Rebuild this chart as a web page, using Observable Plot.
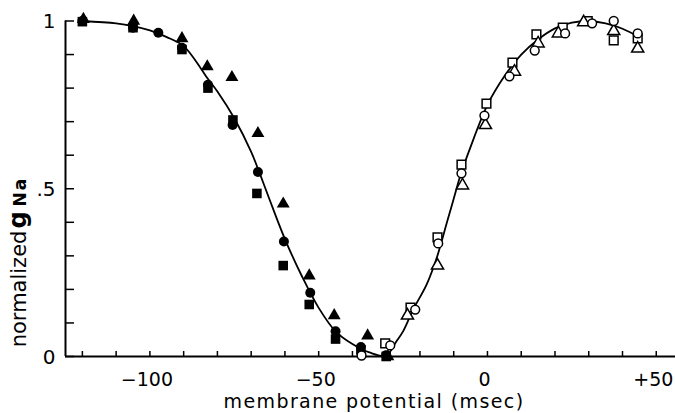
<!DOCTYPE html>
<html>
<head>
<meta charset="utf-8">
<script src="https://cdn.jsdelivr.net/npm/d3@7"></script>
<script src="https://cdn.jsdelivr.net/npm/@observablehq/plot@0.6"></script>
<style>
  html, body { margin: 0; padding: 0; background: #fff; }
  svg { display: block; }
</style>
</head>
<body>
<div id="chart"></div>
<script>
// ---- Data (membrane potential in mV, normalized gNa) ----
// Filled symbols: inactivation
const filledCircleV = [-120, -105, -97.5, -90.5, -82.8, -75.5, -68, -60.3, -52.5, -45, -37.5, -30];
const filledCircleG = [1.0, 0.98, 0.965, 0.92, 0.81, 0.69, 0.55, 0.343, 0.19, 0.075, 0.028, 0.004];
const filledSquareV = [-120, -105, -90.5, -82.8, -75.4, -68.3, -60.5, -52.8, -45, -37.5, -30];
const filledSquareG = [0.998, 0.98, 0.915, 0.80, 0.705, 0.486, 0.271, 0.155, 0.052, 0.02, 0.0];
const filledTriangleV = [-119.7, -104.8, -90.5, -83, -75.7, -68, -60.5, -52.8, -45.4, -35.5, -29.5];
const filledTriangleG = [1.005, 1.0, 0.948, 0.864, 0.832, 0.665, 0.455, 0.241, 0.122, 0.062, 0.0];
// Open symbols: activation
const openCircleV = [-37.3, -28.8, -21.4, -14.6, -7.7, -0.9, 6.5, 14, 23, 31, 37.4, 44.5];
const openCircleG = [0.003, 0.033, 0.14, 0.337, 0.546, 0.718, 0.835, 0.912, 0.963, 0.993, 1.0, 0.963];
const openSquareV = [-30.3, -22.8, -14.8, -7.7, -0.3, 7.4, 14.5, 22.3, 29.7, 37.4, 44.5];
const openSquareG = [0.039, 0.146, 0.355, 0.572, 0.754, 0.876, 0.96, 0.98, 1.0, 0.942, 0.948];
const openTriangleV = [-23.7, -14.8, -7.4, -0.6, 8, 15, 21, 28.5, 37.4, 44.5];
const openTriangleG = [0.122, 0.271, 0.51, 0.69, 0.849, 0.933, 0.963, 0.996, 0.97, 0.918];
// Fitted curve
const curveV = [-120, -110, -105, -100, -95, -90, -85, -83, -80, -75, -70, -68, -65, -60, -55, -50, -45, -40, -35, -30,
                -27, -25, -22, -18, -15, -12, -10, -8, -5, 0, 5, 10, 15, 20, 25, 30, 35, 40, 45];
const curveG = [1.0, 0.993, 0.985, 0.972, 0.952, 0.925, 0.86, 0.83, 0.79, 0.71, 0.61, 0.56, 0.48, 0.35, 0.24, 0.145, 0.075, 0.037, 0.012, 0.003,
                0.045, 0.075, 0.14, 0.215, 0.295, 0.40, 0.47, 0.54, 0.625, 0.75, 0.835, 0.90, 0.945, 0.978, 0.995, 1.0, 0.993, 0.977, 0.952];
// Ticks and labels
const xMinorTicks = [-120, -110, -100, -90, -80, -70, -60, -50, -40, -30, -20, -10, 0, 10, 20, 30, 40, 50];
const xLabelTicks = [-100, -50, 0, 50];
const xTickLabels = ["\u2212100", "\u221250", "0", "+50"];
const yMinorTicks = [0, 0.1, 0.2, 0.3, 0.4, 0.5, 0.6, 0.7, 0.8, 0.9, 1.0];
const yLabelTicks = [0, 0.5, 1];
const yTickLabels = ["0", ".5", "1"];
const xTitle = "membrane potential (msec)";

const zip = (xs, ys) => xs.map((v, i) => ({v, g: ys[i]}));
const xDomain = [-125, 55.7];

const chart = Plot.plot({
  width: 675,
  height: 413,
  marginLeft: 65,
  marginRight: 0,
  marginTop: 20.5,
  marginBottom: 57,
  style: {fontFamily: "DejaVu Sans", background: "#fff", color: "#000", overflow: "visible"},
  x: {domain: xDomain},
  y: {domain: [0, 1]},
  marks: [
    // axis lines
    Plot.ruleY([0], {stroke: "#000", strokeWidth: 2}),
    Plot.ruleX([xDomain[0]], {stroke: "#000", strokeWidth: 2}),
    // inward ticks
    Plot.tickX(xMinorTicks, {x: d => d, insetTop: 330.5, stroke: "#000", strokeWidth: 1.5}),
    Plot.tickY(yMinorTicks, {y: d => d, insetRight: 601, stroke: "#000", strokeWidth: 1.5}),
    // tick labels
    Plot.axisX(xLabelTicks, {tickSize: 0, tickPadding: 16, fontSize: 19, label: null, dx: -3,
      tickFormat: d => xTickLabels[xLabelTicks.indexOf(d)]}),
    Plot.axisY(yLabelTicks, {tickSize: 0, tickPadding: 10, fontSize: 20, label: null, dy: 1,
      tickFormat: d => yTickLabels[yLabelTicks.indexOf(d)]}),
    // fitted curve
    Plot.line(zip(curveV, curveG), {x: "v", y: "g", curve: "catmull-rom", stroke: "#000", strokeWidth: 1.8}),
    // filled symbols
    Plot.dot(zip(filledSquareV, filledSquareG), {x: "v", y: "g", symbol: "square", r: 5.4, fill: "#000"}),
    Plot.dot(zip(filledTriangleV, filledTriangleG), {x: "v", y: "g", symbol: "triangle", r: 4.8, fill: "#000"}),
    Plot.dot(zip(filledCircleV, filledCircleG), {x: "v", y: "g", symbol: "circle", r: 5, fill: "#000"}),
    // open symbols
    Plot.dot(zip(openSquareV, openSquareG), {x: "v", y: "g", symbol: "square", r: 4.9, fill: "#fff", stroke: "#000", strokeWidth: 1.5}),
    Plot.dot(zip(openTriangleV, openTriangleG), {x: "v", y: "g", symbol: "triangle", r: 4.5, fill: "#fff", stroke: "#000", strokeWidth: 1.5}),
    Plot.dot(zip(openCircleV, openCircleG), {x: "v", y: "g", symbol: "circle", r: 4.4, fill: "#fff", stroke: "#000", strokeWidth: 1.5})
  ]
});

document.getElementById("chart").appendChild(chart);

// axis titles
const svg = d3.select(chart);
svg.append("text")
  .attr("x", 374).attr("y", 408)
  .attr("text-anchor", "middle")
  .attr("font-family", "DejaVu Sans")
  .attr("font-size", 19)
  .attr("letter-spacing", 1.4)
  .attr("fill", "#000")
  .text(xTitle);

const yt = svg.append("text")
  .attr("transform", "translate(26,262) rotate(-90)")
  .attr("font-family", "DejaVu Sans")
  .attr("fill", "#000");
yt.append("tspan").attr("font-size", 21).text("normalized");
yt.append("tspan").attr("dx", 2).attr("font-size", 24).attr("font-weight", "bold").text("g");
yt.append("tspan").attr("dx", 5).attr("font-size", 17).attr("font-weight", "bold").attr("letter-spacing", 2).text("Na");
</script>
</body>
</html>
